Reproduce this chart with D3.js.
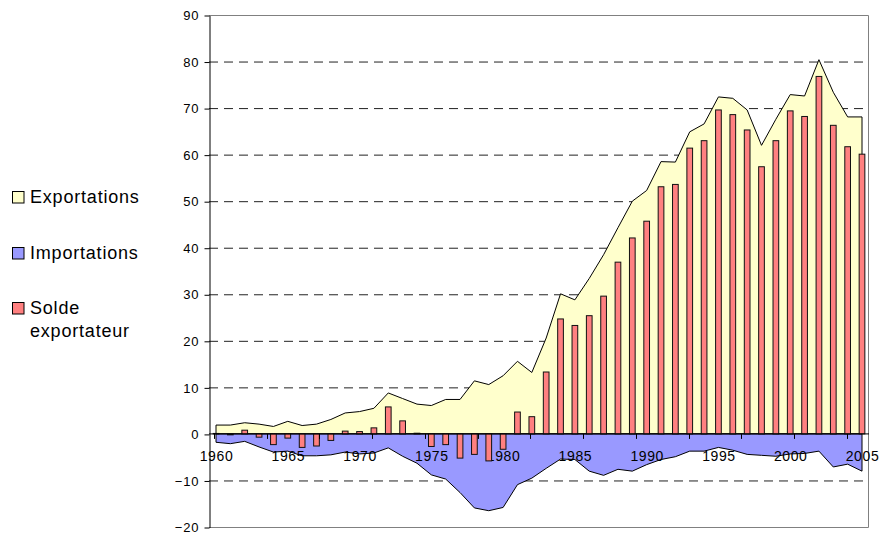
<!DOCTYPE html>
<html>
<head>
<meta charset="utf-8">
<script src="https://cdn.jsdelivr.net/npm/d3@7"></script>
<style>
  body { margin: 0; background: #fff; }
  text { font-family: "Liberation Sans", Arial, sans-serif; fill: #000; }
</style>
</head>
<body>
<script>

// Data (1960 - 2005)
var years = d3.range(1960, 2006);

var exportations = [1.9, 1.9, 2.4, 2.1, 1.6, 2.7, 1.8, 2.1, 3.1, 4.5,
                    4.8, 5.5, 8.8, 7.6, 6.4, 6.1, 7.4, 7.4, 11.4, 10.6,
                    12.5, 15.6, 13.2, 20.6, 30.1, 28.8, 33.4, 38.5, 44.3, 50.0,
                    52.3, 58.5, 58.4, 64.9, 66.6, 72.4, 72.1, 69.6, 62.0, 67.6,
                    72.9, 72.6, 80.4, 73.4, 68.1, 68.1];

var importations = [-1.8, -2.1, -1.6, -2.8, -3.9, -3.7, -4.7, -4.7, -4.5, -3.9,
                    -4.3, -4.1, -3.0, -4.8, -6.3, -8.8, -9.7, -12.6, -15.9, -16.5,
                    -15.8, -10.9, -9.5, -7.4, -5.4, -5.5, -8.0, -8.9, -7.6, -8.0,
                    -6.6, -5.5, -4.9, -3.7, -3.7, -2.9, -3.5, -4.4, -4.6, -4.8,
                    -4.3, -4.2, -3.7, -7.1, -6.5, -8.0];

var solde = [0.1, -0.2, 0.8, -0.7, -2.3, -0.9, -2.9, -2.6, -1.4, 0.6,
             0.5, 1.3, 5.8, 2.8, 0.15, -2.7, -2.3, -5.2, -4.4, -5.8,
             -3.3, 4.7, 3.7, 13.3, 24.7, 23.3, 25.4, 29.6, 36.9, 42.1,
             45.7, 53.1, 53.6, 61.4, 63.0, 69.6, 68.6, 65.3, 57.4, 63.0,
             69.4, 68.2, 76.8, 66.3, 61.7, 60.1];

var yTicks = [90, 80, 70, 60, 50, 40, 30, 20, 10, 0, -10, -20];
var xLabels = [1960, 1965, 1970, 1975, 1980, 1985, 1990, 1995, 2000, 2005];

var legendNames = [["Exportations"], ["Importations"], ["Solde", "exportateur"]];
var legendColors = ["#FFFFCC", "#9999FF", "#FF8080"];

// Dimensions
var w = 879;
var h = 536;
var plot = {left: 209, right: 869, top: 15, bottom: 527};

var svg = d3.select("body")
            .append("svg")
            .attr("width", w)
            .attr("height", h);

// Scales
var xScale = d3.scalePoint()
               .domain(years)
               .range([216, 862]);

var yScale = d3.scaleLinear()
               .domain([-20, 90])
               .range([plot.bottom, plot.top]);

// Dashed grid lines
svg.append("g")
   .selectAll("line")
   .data(yTicks.filter(d => d != 90 && d != -20 && d != 0))
   .enter()
   .append("line")
   .attr("x1", plot.left)
   .attr("x2", plot.right)
   .attr("y1", d => yScale(d) + 0.5)
   .attr("y2", d => yScale(d) + 0.5)
   .attr("stroke", "#222")
   .attr("stroke-dasharray", "9,6");

// Plot border (top, right, bottom)
svg.append("path")
   .attr("d", `M${plot.left},${plot.top + 0.5}H${plot.right - 0.5}V${plot.bottom + 0.5}H${plot.left}`)
   .attr("fill", "none")
   .attr("stroke", "#808080");

// Areas
var areaExp = d3.area()
                .x((d, i) => xScale(years[i]))
                .y0(yScale(0))
                .y1(d => yScale(d));

svg.append("path")
   .datum(exportations)
   .attr("d", areaExp)
   .attr("fill", legendColors[0])
   .attr("stroke", "#000")
   .attr("stroke-width", 1);

svg.append("path")
   .datum(importations)
   .attr("d", areaExp)
   .attr("fill", legendColors[1])
   .attr("stroke", "#000")
   .attr("stroke-width", 1);

// x labels (under the bars)
var xAxis = svg.append("g")
               .attr("transform", `translate(0, ${yScale(0)})`)
               .call(d3.axisBottom(xScale).tickValues(xLabels).tickSize(0).tickPadding(17));

xAxis.select(".domain").remove();
xAxis.selectAll("text")
     .style("font-size", "14px")
     .style("letter-spacing", "0.6px")
     .attr("fill", "#000");

// Bars
var barW = 5.7;
svg.append("g")
   .selectAll("rect")
   .data(solde)
   .enter()
   .append("rect")
   .attr("x", (d, i) => xScale(years[i]) - barW / 2)
   .attr("y", d => yScale(Math.max(0, d)))
   .attr("width", barW)
   .attr("height", d => Math.abs(yScale(d) - yScale(0)))
   .attr("fill", legendColors[2])
   .attr("stroke", "#111")
   .attr("stroke-width", 1);

// Zero line
svg.append("line")
   .attr("x1", plot.left)
   .attr("x2", plot.right)
   .attr("y1", yScale(0))
   .attr("y2", yScale(0))
   .attr("stroke", "#000");

// x tick marks (every ~3.67 categories as in the original)
var tickYears = d3.range(0, 13).map(k => 1959.85 + k * 3.675);
var tickX = d3.scaleLinear().domain([1960, 2005]).range([216, 862]);
svg.append("g")
   .selectAll("line")
   .data(tickYears)
   .enter()
   .append("line")
   .attr("x1", d => Math.round(tickX(d)) + 0.5)
   .attr("x2", d => Math.round(tickX(d)) + 0.5)
   .attr("y1", yScale(0))
   .attr("y2", yScale(0) + 5)
   .attr("stroke", "#000");

// y axis
var yAxis = svg.append("g")
               .attr("transform", `translate(${plot.left + 0.5}, 0.5)`)
               .call(d3.axisLeft(yScale).tickValues(yTicks).tickSize(5).tickPadding(5).tickSizeOuter(0));

yAxis.select(".domain").attr("stroke", "#000");
yAxis.selectAll("text")
     .style("font-size", "13px")
     .style("letter-spacing", "0.9px")
     .attr("fill", "#000");

// Legend
var legend = svg.append("g");
var legendY = [203, 259, 314];

legendNames.forEach(function(lines, i) {
  legend.append("rect")
        .attr("x", 12.5)
        .attr("y", legendY[i] - 11.5)
        .attr("width", 11.5)
        .attr("height", 11.5)
        .attr("fill", legendColors[i])
        .attr("stroke", "#000");

  lines.forEach(function(t, j) {
    legend.append("text")
          .attr("x", 30)
          .attr("y", legendY[i] + j * 22.5)
          .style("font-size", "18px")
          .style("letter-spacing", "0.8px")
          .text(t);
  });
});

</script>
</body>
</html>
